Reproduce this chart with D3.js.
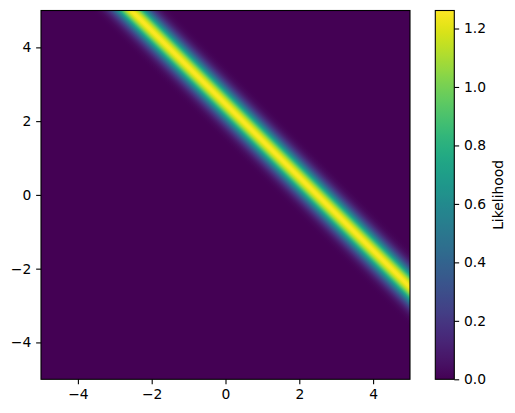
<!DOCTYPE html>
<html><head><meta charset="utf-8">
<script src="https://cdn.jsdelivr.net/npm/d3@7"></script>
<style>body{margin:0;background:#fff}svg{display:block;font-family:"DejaVu Sans",sans-serif}</style>
</head><body><svg id="c" width="515" height="413"></svg>
<script>
// ---- data ----
const xDomain = [-5, 5];
const yDomain = [-5, 5];
const xTicks = [-4, -2, 0, 2, 4];
const yTicks = [-4, -2, 0, 2, 4];
const cbTicks = [0, 0.2, 0.4, 0.6, 0.8, 1.0, 1.2];
const colorMax = 1.2616;                // top of colour bar
const bandTop = [-2.55, 5];             // band centre where it meets the top edge
const bandRight = [5, -2.5];            // band centre where it meets the right edge
// likelihood across the band (horizontal distance from centre line, symmetric)
const profileOffset = [0, 0.05, 0.10, 0.15, 0.20, 0.25, 0.30, 0.35, 0.40, 0.45, 0.50, 0.55, 0.60, 0.65, 0.70, 0.75, 0.80, 0.85, 0.90, 0.95, 1.00, 1.10, 1.20, 1.30];
const profileValue  = [1.262, 1.246, 1.200, 1.127, 1.033, 0.923, 0.804, 0.684, 0.567, 0.458, 0.361, 0.278, 0.209, 0.153, 0.109, 0.076, 0.051, 0.034, 0.022, 0.014, 0.0085, 0.003, 0.001, 0.0003];
const cbLabel = "Likelihood";

// ---- drawing ----
const svg = d3.select("#c");
const L = 41, R = 410, T = 10.5, B = 379.3;
const CL = 435.3, CR = 454.3;
const FS = "13.89px", LW = 1.1, TK = 4.86;

const x = d3.scaleLinear().domain(xDomain).range([L, R]);
const y = d3.scaleLinear().domain(yDomain).range([B, T]);
const color = d3.scaleSequential(d3.interpolateViridis).domain([0, colorMax]);
const defs = svg.append("defs");

// band gradient, perpendicular to the band
const p1 = [x(bandTop[0]), y(bandTop[1])], p2 = [x(bandRight[0]), y(bandRight[1])];
const ddx = p2[0] - p1[0], ddy = p2[1] - p1[1], len = Math.hypot(ddx, ddy);
let n = [-ddy / len, ddx / len];
if (n[0] < 0) n = [-n[0], -n[1]];
const cpt = [(p1[0] + p2[0]) / 2, (p1[1] + p2[1]) / 2];
const hMax = d3.max(profileOffset);
const dist = (x(hMax) - x(0)) * n[0];
const bg = defs.append("linearGradient").attr("id", "band").attr("gradientUnits", "userSpaceOnUse")
  .attr("x1", cpt[0] - n[0] * dist).attr("y1", cpt[1] - n[1] * dist)
  .attr("x2", cpt[0] + n[0] * dist).attr("y2", cpt[1] + n[1] * dist);
const stops = [];
for (let i = profileOffset.length - 1; i >= 0; i--) stops.push({h: -profileOffset[i], v: profileValue[i]});
for (let i = 1; i < profileOffset.length; i++) stops.push({h: profileOffset[i], v: profileValue[i]});
bg.selectAll("stop").data(stops).join("stop")
  .attr("offset", d => (d.h + hMax) / (2 * hMax))
  .attr("stop-color", d => color(d.v));

svg.append("rect").attr("x", L).attr("y", T).attr("width", R - L).attr("height", B - T)
  .attr("fill", "url(#band)");

function styleAxis(g) {
  g.select(".domain").remove();
  g.selectAll(".tick line").attr("stroke", "#000").attr("stroke-width", LW);
  g.selectAll(".tick text").attr("fill", "#000").style("font-size", FS).style("font-family", "DejaVu Sans");
}
const fmt = d3.format("d");
svg.append("g").attr("transform", `translate(0,${B})`)
  .call(d3.axisBottom(x).tickValues(xTicks).tickSize(TK).tickPadding(TK).tickFormat(fmt)).call(styleAxis);
svg.append("g").attr("transform", `translate(${L},0)`)
  .call(d3.axisLeft(y).tickValues(yTicks).tickSize(TK).tickPadding(TK).tickFormat(fmt)).call(styleAxis);
svg.append("rect").attr("x", L).attr("y", T).attr("width", R - L).attr("height", B - T)
  .attr("fill", "none").attr("stroke", "#000").attr("stroke-width", LW);

// colour bar
const cy = d3.scaleLinear().domain([0, colorMax]).range([B, T]);
const cg = defs.append("linearGradient").attr("id", "cbar").attr("x1", 0).attr("y1", 1).attr("x2", 0).attr("y2", 0);
cg.selectAll("stop").data(d3.range(0, 1.0001, 0.02)).join("stop")
  .attr("offset", d => d).attr("stop-color", d => d3.interpolateViridis(d));
svg.append("rect").attr("x", CL).attr("y", T).attr("width", CR - CL).attr("height", B - T).attr("fill", "url(#cbar)");
svg.append("g").attr("transform", `translate(${CR},0)`)
  .call(d3.axisRight(cy).tickValues(cbTicks).tickSize(TK).tickPadding(TK).tickFormat(d3.format(".1f"))).call(styleAxis);
svg.append("rect").attr("x", CL).attr("y", T).attr("width", CR - CL).attr("height", B - T)
  .attr("fill", "none").attr("stroke", "#000").attr("stroke-width", LW);
svg.append("text").attr("transform", `translate(503,${(T + B) / 2}) rotate(-90)`)
  .attr("text-anchor", "middle").style("font-size", FS).attr("fill", "#000").text(cbLabel);
</script></body></html>
